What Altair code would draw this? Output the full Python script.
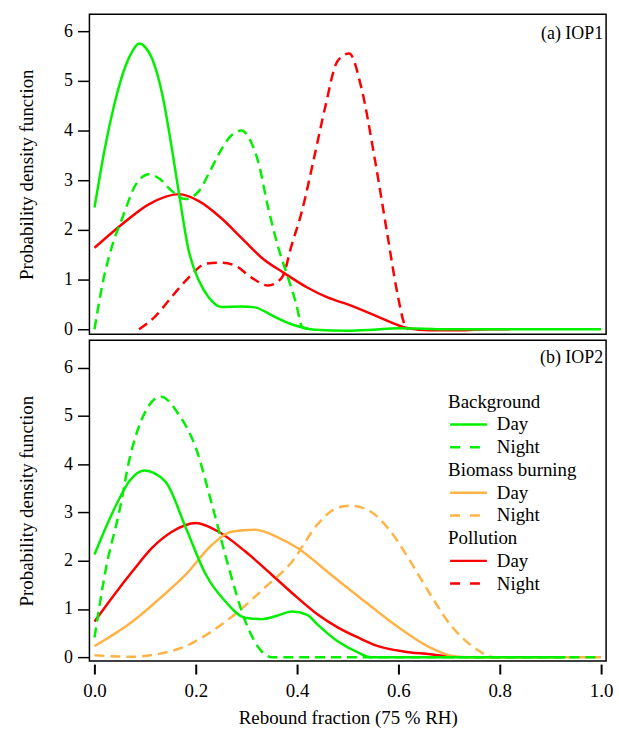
import altair as alt
import pandas as pd

# ---------------- data ----------------
# Panel (a) IOP1
a_bg_day_x = [0, 0.01, 0.02, 0.039, 0.062, 0.075, 0.088, 0.1, 0.114, 0.134, 0.153, 0.167, 0.186, 0.206,
              0.225, 0.25, 0.29, 0.317, 0.336, 0.356, 0.395, 0.435, 0.5, 0.55, 0.6, 0.65, 0.7, 0.8, 0.9, 1.0]
a_bg_day_y = [2.45, 3.05, 3.62, 4.52, 5.32, 5.6, 5.75, 5.68, 5.44, 4.72, 3.62, 2.72, 1.58, 0.98,
              0.65, 0.45, 0.46, 0.44, 0.36, 0.25, 0.08, -0.01, -0.03, -0.01, 0.02, 0.01, 0.0, 0.0, 0.0, 0.0]

a_bg_night_x = [0, 0.016, 0.036, 0.055, 0.082, 0.108, 0.127, 0.153, 0.18, 0.206, 0.225, 0.245, 0.27,
                0.29, 0.31, 0.323, 0.343, 0.363, 0.382, 0.398, 0.41, 0.425]
a_bg_night_y = [0.0, 0.92, 1.72, 2.24, 2.92, 3.12, 3.04, 2.78, 2.62, 2.78, 3.12, 3.52, 3.9,
                4.0, 3.75, 3.38, 2.44, 1.64, 1.04, 0.52, 0.05, 0.0]

a_pol_day_x = [0, 0.055, 0.108, 0.167, 0.206, 0.25, 0.29, 0.33, 0.376, 0.42, 0.46, 0.5, 0.56, 0.6,
               0.62, 0.66, 0.72, 0.78, 0.82]
a_pol_day_y = [1.64, 2.12, 2.52, 2.72, 2.58, 2.24, 1.84, 1.44, 1.12, 0.84, 0.64, 0.5, 0.25, 0.08,
               0.02, -0.02, -0.02, 0.0, 0.0]

a_pol_night_x = [0.088, 0.12, 0.153, 0.186, 0.22, 0.25, 0.278, 0.31, 0.343, 0.37, 0.39, 0.408, 0.435,
                 0.455, 0.48, 0.503, 0.526, 0.553, 0.578, 0.598, 0.612, 0.62]
a_pol_night_y = [0.0, 0.26, 0.66, 1.04, 1.32, 1.34, 1.28, 1.04, 0.88, 1.04, 1.72, 2.32, 3.52,
                 4.45, 5.4, 5.55, 4.9, 3.45, 1.92, 0.72, 0.1, 0.0]

# Panel (b) IOP2
b_bg_day_x = [0, 0.043, 0.069, 0.098, 0.14, 0.18, 0.22, 0.258, 0.297, 0.33, 0.36, 0.39, 0.42, 0.44,
              0.48, 0.52, 0.545, 0.6, 0.7, 0.8, 0.93]
b_bg_day_y = [2.13, 3.16, 3.65, 3.87, 3.64, 2.69, 1.71, 1.16, 0.82, 0.79, 0.86, 0.95, 0.88, 0.68,
              0.33, 0.1, 0.0, 0.0, 0.0, 0.0, 0.0]

b_bg_night_x = [0, 0.023, 0.049, 0.069, 0.1, 0.131, 0.167, 0.2, 0.232, 0.265, 0.298, 0.33, 0.35,
                0.5, 0.7, 1.0]
b_bg_night_y = [0.41, 1.86, 3.02, 4.1, 5.08, 5.4, 5.02, 4.34, 3.16, 1.86, 0.74, 0.12, 0.0,
                0.0, 0.0, 0.0]

b_bb_day_x = [0, 0.075, 0.127, 0.18, 0.232, 0.27, 0.317, 0.363, 0.40, 0.467, 0.533, 0.6, 0.663,
              0.71, 0.74, 0.85, 1.0]
b_bb_day_y = [0.23, 0.74, 1.2, 1.71, 2.33, 2.6, 2.64, 2.48, 2.27, 1.71, 1.16, 0.62, 0.2,
              0.02, 0.0, 0.0, 0.0]

b_bb_night_x = [0, 0.075, 0.127, 0.18, 0.232, 0.284, 0.337, 0.39, 0.44, 0.48, 0.506, 0.545, 0.585,
                0.624, 0.663, 0.702, 0.75, 0.79, 0.8]
b_bb_night_y = [0.04, 0.01, 0.07, 0.23, 0.54, 0.95, 1.45, 1.98, 2.75, 3.1, 3.14, 3.02, 2.6,
                1.98, 1.3, 0.68, 0.2, 0.0, 0.0]

b_pol_day_x = [0, 0.035, 0.075, 0.114, 0.153, 0.2, 0.245, 0.298, 0.35, 0.40, 0.44, 0.48, 0.52,
               0.56, 0.61, 0.663, 0.71]
b_pol_day_y = [0.74, 1.24, 1.78, 2.27, 2.6, 2.78, 2.6, 2.19, 1.71, 1.24, 0.89, 0.62, 0.41,
               0.23, 0.12, 0.06, 0.0]

# legend entries
legend_labels = ["Background", "Day", "Night", "Biomass burning", "Day", "Night", "Pollution", "Day", "Night"]
legend_kind = ["head", "solid", "dash", "head", "solid", "dash", "head", "solid", "dash"]

x_ticks = [0.0, 0.2, 0.4, 0.6, 0.8, 1.0]
y_ticks = [0, 1, 2, 3, 4, 5, 6]

GREEN = "#00f000"
ORANGE = "#ffb347"
RED = "#ff0000"
legend_colors = ["black", GREEN, GREEN, "black", ORANGE, ORANGE, "black", RED, RED]

FONT = "serif"
W = 520

xscale = alt.Scale(domain=[-0.01, 1.01], nice=False, zero=False)
yscale_a = alt.Scale(domain=[-0.1, 6.34], nice=False, zero=False)
yscale_b = alt.Scale(domain=[-0.08, 6.57], nice=False, zero=False)

yaxis = alt.Axis(values=y_ticks, title="Probability density function", domain=False, grid=False,
                 tickSize=12, tickWidth=1.5, labelPadding=5, labelFontSize=18, titleFontSize=19,
                 titlePadding=27, format="d", labelFont=FONT, titleFont=FONT)
xaxis_b = alt.Axis(values=x_ticks, format=".1f", title="Rebound fraction (75 % RH)", domain=False,
                   grid=False, tickSize=10, tickWidth=2, offset=3, labelPadding=8, labelFontSize=19,
                   titleFontSize=19, titlePadding=8, labelFont=FONT, titleFont=FONT)


def curve(xs, ys, color, dashed, yscale, xaxis):
    df = pd.DataFrame({"x": xs, "y": ys})
    kw = dict(color=color, strokeWidth=2.5, interpolate="monotone", clip=True)
    if dashed:
        kw["strokeDash"] = [10, 6]
    return alt.Chart(df).mark_line(**kw).encode(
        x=alt.X("x:Q", scale=xscale, axis=xaxis),
        y=alt.Y("y:Q", scale=yscale, axis=yaxis),
    )


def panel_label(text, ypx):
    return alt.Chart(pd.DataFrame({"t": [text]})).mark_text(
        align="right", baseline="middle", font=FONT, fontSize=18, color="black"
    ).encode(x=alt.value(W - 3), y=alt.value(ypx), text="t:N")


top = alt.layer(
    curve(a_pol_day_x, a_pol_day_y, RED, False, yscale_a, None),
    curve(a_pol_night_x, a_pol_night_y, RED, True, yscale_a, None),
    curve(a_bg_night_x, a_bg_night_y, GREEN, True, yscale_a, None),
    curve(a_bg_day_x, a_bg_day_y, GREEN, False, yscale_a, None),
    panel_label("(a) IOP1", 20),
).properties(width=W, height=322)

lines_b = alt.layer(
    curve(b_pol_day_x, b_pol_day_y, RED, False, yscale_b, xaxis_b),
    curve(b_bb_day_x, b_bb_day_y, ORANGE, False, yscale_b, xaxis_b),
    curve(b_bb_night_x, b_bb_night_y, ORANGE, True, yscale_b, xaxis_b),
    curve(b_bg_night_x, b_bg_night_y, GREEN, True, yscale_b, xaxis_b),
    curve(b_bg_day_x, b_bg_day_y, GREEN, False, yscale_b, xaxis_b),
    panel_label("(b) IOP2", 18),
)

leg_df = pd.DataFrame({"row": list(range(len(legend_labels))), "label": legend_labels,
                       "kind": legend_kind, "color": legend_colors})
leg_y = alt.Y("row:Q", scale=alt.Scale(domain=[0, 8], range=[62, 245]), axis=None)
leg_base = alt.Chart(leg_df)
leg_heads = leg_base.mark_text(align="left", baseline="middle", font=FONT, fontSize=19, color="black").encode(
    x=alt.value(361), y=leg_y, text="label:N").transform_filter(alt.datum.kind == "head")
leg_items = leg_base.mark_text(align="left", baseline="middle", font=FONT, fontSize=19, color="black").encode(
    x=alt.value(410), y=leg_y, text="label:N").transform_filter(alt.datum.kind != "head")
leg_solid = leg_base.mark_rule(strokeWidth=2.5).encode(
    x=alt.value(363), x2=alt.value(400), y=leg_y, color=alt.Color("color:N", scale=None)
).transform_filter(alt.datum.kind == "solid")
leg_dash = leg_base.mark_rule(strokeWidth=2.5, strokeDash=[10, 10]).encode(
    x=alt.value(363), x2=alt.value(400), y=leg_y, color=alt.Color("color:N", scale=None)
).transform_filter(alt.datum.kind == "dash")
legend = alt.layer(leg_heads, leg_items, leg_solid, leg_dash)

bottom = alt.layer(lines_b, legend).resolve_scale(y="independent").properties(width=W, height=323)

chart = alt.vconcat(top, bottom, spacing=0).properties(
    padding={"left": 17, "top": 11, "right": 5, "bottom": 5}
).configure_view(stroke="black", strokeWidth=1.5).configure_axis(
    labelColor="black", titleColor="black", tickColor="black", titleFontWeight="normal"
).configure_text(font=FONT)

chart.save("out.html", embed_options={"renderer": "svg", "actions": False})
